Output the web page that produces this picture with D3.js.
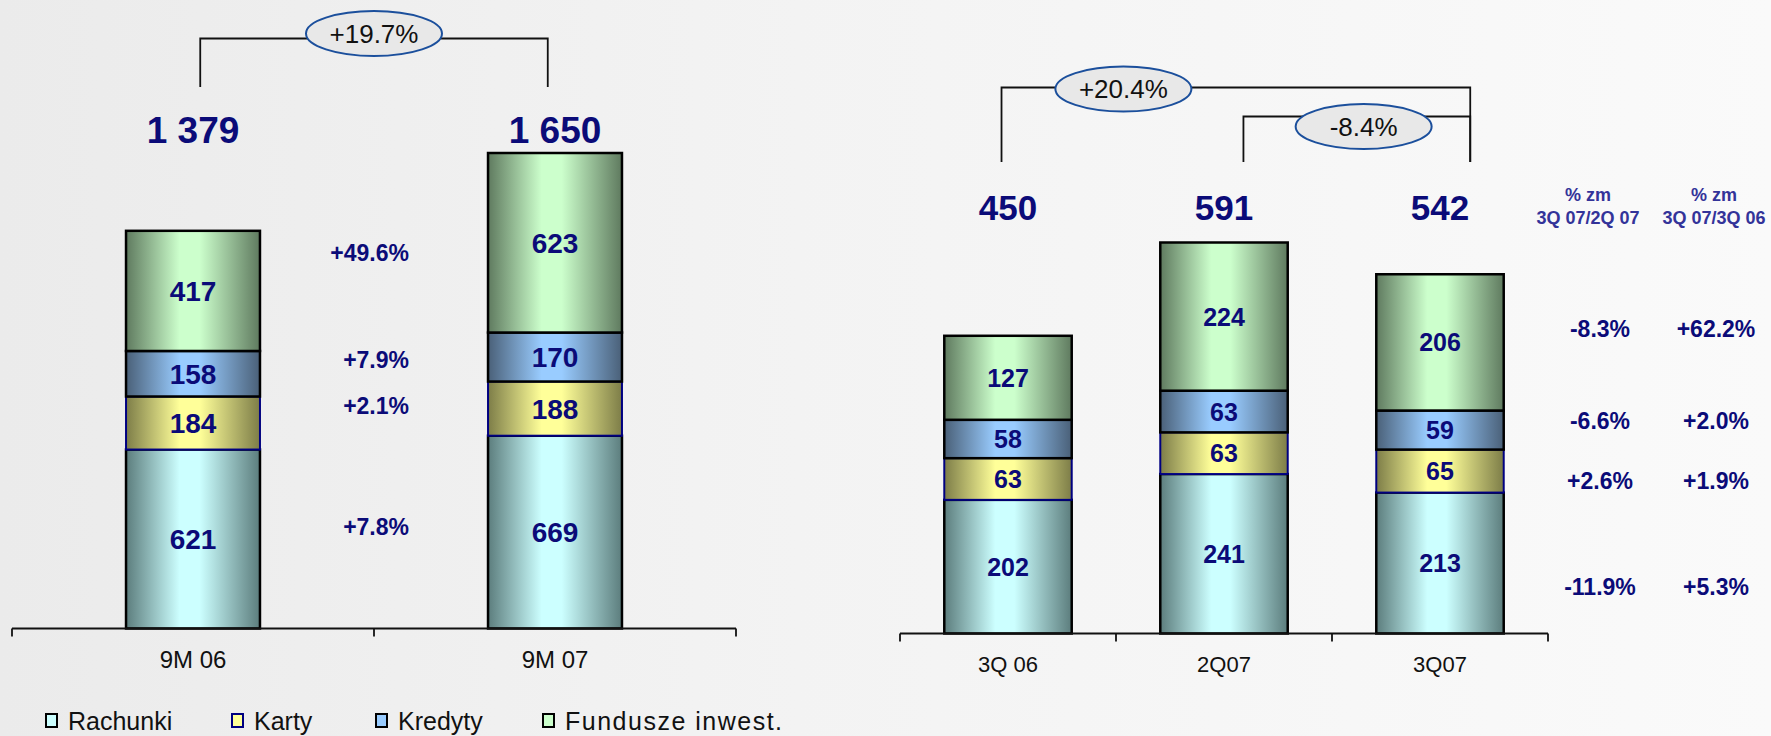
<!DOCTYPE html>
<html>
<head>
<meta charset="utf-8">
<script src="https://cdn.jsdelivr.net/npm/d3@7"></script>
<style>
  body { margin: 0; background: #f2f2f2; }
  svg { display: block; font-family: "Liberation Sans", Arial, sans-serif; }
</style>
</head>
<body>
<div id="chart"></div>
<script>
// segments, bottom to top
const segments = ["Rachunki", "Karty", "Kredyty", "Fundusze inwest."];

// left panel: nine months
const periods9m = ["9M 06", "9M 07"];
const rachunki9m = [621, 669];
const karty9m = [184, 188];
const kredyty9m = [158, 170];
const fundusze9m = [417, 623];
const totals9m = [1379, 1650];
const change9m = ["+7.8%", "+2.1%", "+7.9%", "+49.6%"];
const growth9m = "+19.7%";

// right panel: quarters
const quarters = ["3Q 06", "2Q07", "3Q07"];
const rachunkiQ = [202, 241, 213];
const kartyQ = [63, 63, 65];
const kredytyQ = [58, 63, 59];
const funduszeQ = [127, 224, 206];
const totalsQ = [450, 591, 542];
const changeQoQ = ["-11.9%", "+2.6%", "-6.6%", "-8.3%"];
const changeYoY = ["+5.3%", "+1.9%", "+2.0%", "+62.2%"];
const growthYoY = "+20.4%";
const growthQoQ = "-8.4%";
const colHeads = [["% zm", "3Q 07/2Q 07"], ["% zm", "3Q 07/3Q 06"]];

const width = 1771, height = 736;
const navy = "#0b0b78";
const fills = [
  {light: "#ccffff", dark: "#5c7d7d"},
  {light: "#ffff99", dark: "#7d7d48"},
  {light: "#99ccff", dark: "#4a6078"},
  {light: "#ccffcc", dark: "#5f7a5f"}
];
const strokes = ["#000", "#000080", "#000", "#000"];
const fmt = d3.formatLocale({decimal: ".", thousands: " ", grouping: [3], currency: ["", ""]}).format(",d");

const svg = d3.select("#chart").append("svg")
  .attr("width", width)
  .attr("height", height);

const defs = svg.append("defs");
const bg = defs.append("linearGradient").attr("id", "bg");
bg.append("stop").attr("offset", 0).attr("stop-color", "#ebebeb");
bg.append("stop").attr("offset", 0.45).attr("stop-color", "#f3f3f3");
bg.append("stop").attr("offset", 1).attr("stop-color", "#fafafa");
svg.append("rect").attr("width", width).attr("height", height).attr("fill", "url(#bg)");

fills.forEach(function(f, i) {
  const g = defs.append("linearGradient").attr("id", "seg" + i);
  g.append("stop").attr("offset", 0).attr("stop-color", f.dark);
  g.append("stop").attr("offset", 0.4).attr("stop-color", f.light);
  g.append("stop").attr("offset", 0.55).attr("stop-color", f.light);
  g.append("stop").attr("offset", 1).attr("stop-color", f.dark);
});

function drawPanel(p) {
  const rows = p.cats.map(function(c, i) {
    const r = {cat: c};
    segments.forEach(function(s, k) { r[s] = p.cols[k][i]; });
    return r;
  });
  const stacked = d3.stack().keys(segments)(rows);

  const x = d3.scaleBand().domain(p.cats).range(p.xRange).padding(0);
  const y = d3.scaleLinear().domain([0, d3.max(p.totals)]).range([p.base, p.top]);
  const bw = x.bandwidth() * p.barFrac;
  const cx = function(c) { return x(c) + x.bandwidth() / 2; };

  const g = svg.append("g");

  stacked.forEach(function(layer, k) {
    g.append("g").selectAll("rect")
      .data(layer)
      .enter().append("rect")
        .attr("x", function(d) { return cx(d.data.cat) - bw / 2; })
        .attr("width", bw)
        .attr("y", function(d) { return y(d[1]); })
        .attr("height", function(d) { return y(d[0]) - y(d[1]); })
        .attr("fill", "url(#seg" + k + ")")
        .attr("stroke", strokes[k])
        .attr("stroke-width", k == 1 ? 2 : 2.5);
  });

  stacked.forEach(function(layer) {
    g.append("g").selectAll("text")
      .data(layer)
      .enter().append("text")
        .attr("x", function(d) { return cx(d.data.cat); })
        .attr("y", function(d) { return (y(d[0]) + y(d[1])) / 2; })
        .attr("dy", "0.36em")
        .attr("text-anchor", "middle")
        .style("font-size", p.labelSize + "px")
        .style("font-weight", "bold")
        .style("fill", navy)
        .text(function(d) { return d[1] - d[0]; });
  });

  // totals above bars
  g.append("g").selectAll("text")
    .data(p.totals)
    .enter().append("text")
      .attr("x", function(d, i) { return cx(p.cats[i]); })
      .attr("y", p.totalY)
      .attr("dy", "0.36em")
      .attr("text-anchor", "middle")
      .style("font-size", p.totalSize + "px")
      .style("font-weight", "bold")
      .style("fill", navy)
      .text(function(d) { return fmt(d); });

  // axis: baseline with ticks between categories
  const ax = g.append("g").attr("stroke", "#111").attr("stroke-width", 1.8);
  ax.append("line")
    .attr("x1", p.xRange[0]).attr("x2", p.xRange[1])
    .attr("y1", p.base).attr("y2", p.base);
  ax.selectAll(".tick")
    .data(d3.range(p.cats.length + 1))
    .enter().append("line")
      .attr("x1", function(i) { return p.xRange[0] + i * x.step(); })
      .attr("x2", function(i) { return p.xRange[0] + i * x.step(); })
      .attr("y1", p.base).attr("y2", p.base + 8);
  g.append("g").selectAll("text")
    .data(p.cats)
    .enter().append("text")
      .attr("x", function(d) { return cx(d); })
      .attr("y", p.base + 31)
      .attr("dy", "0.36em")
      .attr("text-anchor", "middle")
      .style("font-size", p.axisSize + "px")
      .style("fill", "#111")
      .text(function(d) { return d; });

  // growth brackets
  p.brackets.forEach(function(b) {
    const xa = x(p.cats[b.from]) + x.bandwidth() * b.fa;
    const xb = x(p.cats[b.to]) + x.bandwidth() * b.fb;
    g.append("path")
      .attr("d", "M" + xa + "," + b.bottom + "V" + b.top + "H" + xb + "V" + b.bottom)
      .attr("fill", "none")
      .attr("stroke", "#111")
      .attr("stroke-width", 1.8);
    const ex = xa + (xb - xa) * b.at;
    const ey = b.top + b.dy;
    g.append("ellipse")
      .attr("cx", ex).attr("cy", ey)
      .attr("rx", 68).attr("ry", 22.5)
      .attr("fill", "#e8e8e8")
      .attr("stroke", "#1b4f9c")
      .attr("stroke-width", 2);
    g.append("text")
      .attr("x", ex).attr("y", ey)
      .attr("dy", "0.36em")
      .attr("text-anchor", "middle")
      .style("font-size", "26px")
      .style("fill", "#111")
      .text(b.text);
  });

  return y;
}

// left panel
const yL = drawPanel({
  cats: periods9m,
  cols: [rachunki9m, karty9m, kredyty9m, fundusze9m],
  totals: totals9m,
  xRange: [12, 736], base: 628.5, top: 153,
  barFrac: 0.37, labelSize: 28, totalSize: 37, totalY: 130, axisSize: 24,
  brackets: [{from: 0, to: 1, fa: 0.52, fb: 0.48, top: 38.5, bottom: 87, at: 0.5, dy: -5, text: growth9m}]
});

// change labels between the two bars, placed at these heights (data units)
const noteAt9m = [354, 773, 932, 1303];
svg.append("g").selectAll("text")
  .data(change9m)
  .enter().append("text")
    .attr("x", 409)
    .attr("y", function(d, i) { return yL(noteAt9m[i]); })
    .attr("dy", "0.36em")
    .attr("text-anchor", "end")
    .style("font-size", "23px")
    .style("font-weight", "bold")
    .style("fill", navy)
    .text(function(d) { return d; });

// right panel
const yR = drawPanel({
  cats: quarters,
  cols: [rachunkiQ, kartyQ, kredytyQ, funduszeQ],
  totals: totalsQ,
  xRange: [900, 1548], base: 633.5, top: 242.5,
  barFrac: 0.59, labelSize: 25, totalSize: 35, totalY: 207, axisSize: 22,
  brackets: [
    {from: 0, to: 2, fa: 0.47, fb: 0.64, top: 87.5, bottom: 162, at: 0.26, dy: 1.5, text: growthYoY},
    {from: 1, to: 2, fa: 0.59, fb: 0.64, top: 116.5, bottom: 162, at: 0.53, dy: 10, text: growthQoQ}
  ]
});

// change table on the right
const noteAtQ = [71, 231, 322, 461];
const colX = [1600, 1716];
colHeads.forEach(function(h, c) {
  svg.append("g").selectAll("text")
    .data(h)
    .enter().append("text")
      .attr("x", c == 0 ? 1588 : 1714)
      .attr("y", function(d, i) { return 195 + i * 23; })
      .attr("dy", "0.36em")
      .attr("text-anchor", "middle")
      .style("font-size", "18px")
      .style("font-weight", "bold")
      .style("fill", "#333399")
      .text(function(d) { return d; });
});
[changeQoQ, changeYoY].forEach(function(col, c) {
  svg.append("g").selectAll("text")
    .data(col)
    .enter().append("text")
      .attr("x", colX[c])
      .attr("y", function(d, i) { return yR(noteAtQ[i]); })
      .attr("dy", "0.36em")
      .attr("text-anchor", "middle")
      .style("font-size", "23px")
      .style("font-weight", "bold")
      .style("fill", navy)
      .text(function(d) { return d; });
});

// legend
const legendX = [46, 232, 376, 543];
const legend = svg.append("g").attr("transform", "translate(0,714)");
segments.forEach(function(s, k) {
  legend.append("rect")
    .attr("x", legendX[k]).attr("y", 0)
    .attr("width", 11).attr("height", 13)
    .attr("fill", fills[k].light)
    .attr("stroke", strokes[k])
    .attr("stroke-width", 2);
  legend.append("text")
    .attr("x", legendX[k] + 22).attr("y", 7)
    .attr("dy", "0.36em")
    .style("font-size", "25px")
    .style("letter-spacing", k == 3 ? "1.5px" : "0px")
    .style("fill", "#111")
    .text(s);
});
</script>
</body>
</html>
